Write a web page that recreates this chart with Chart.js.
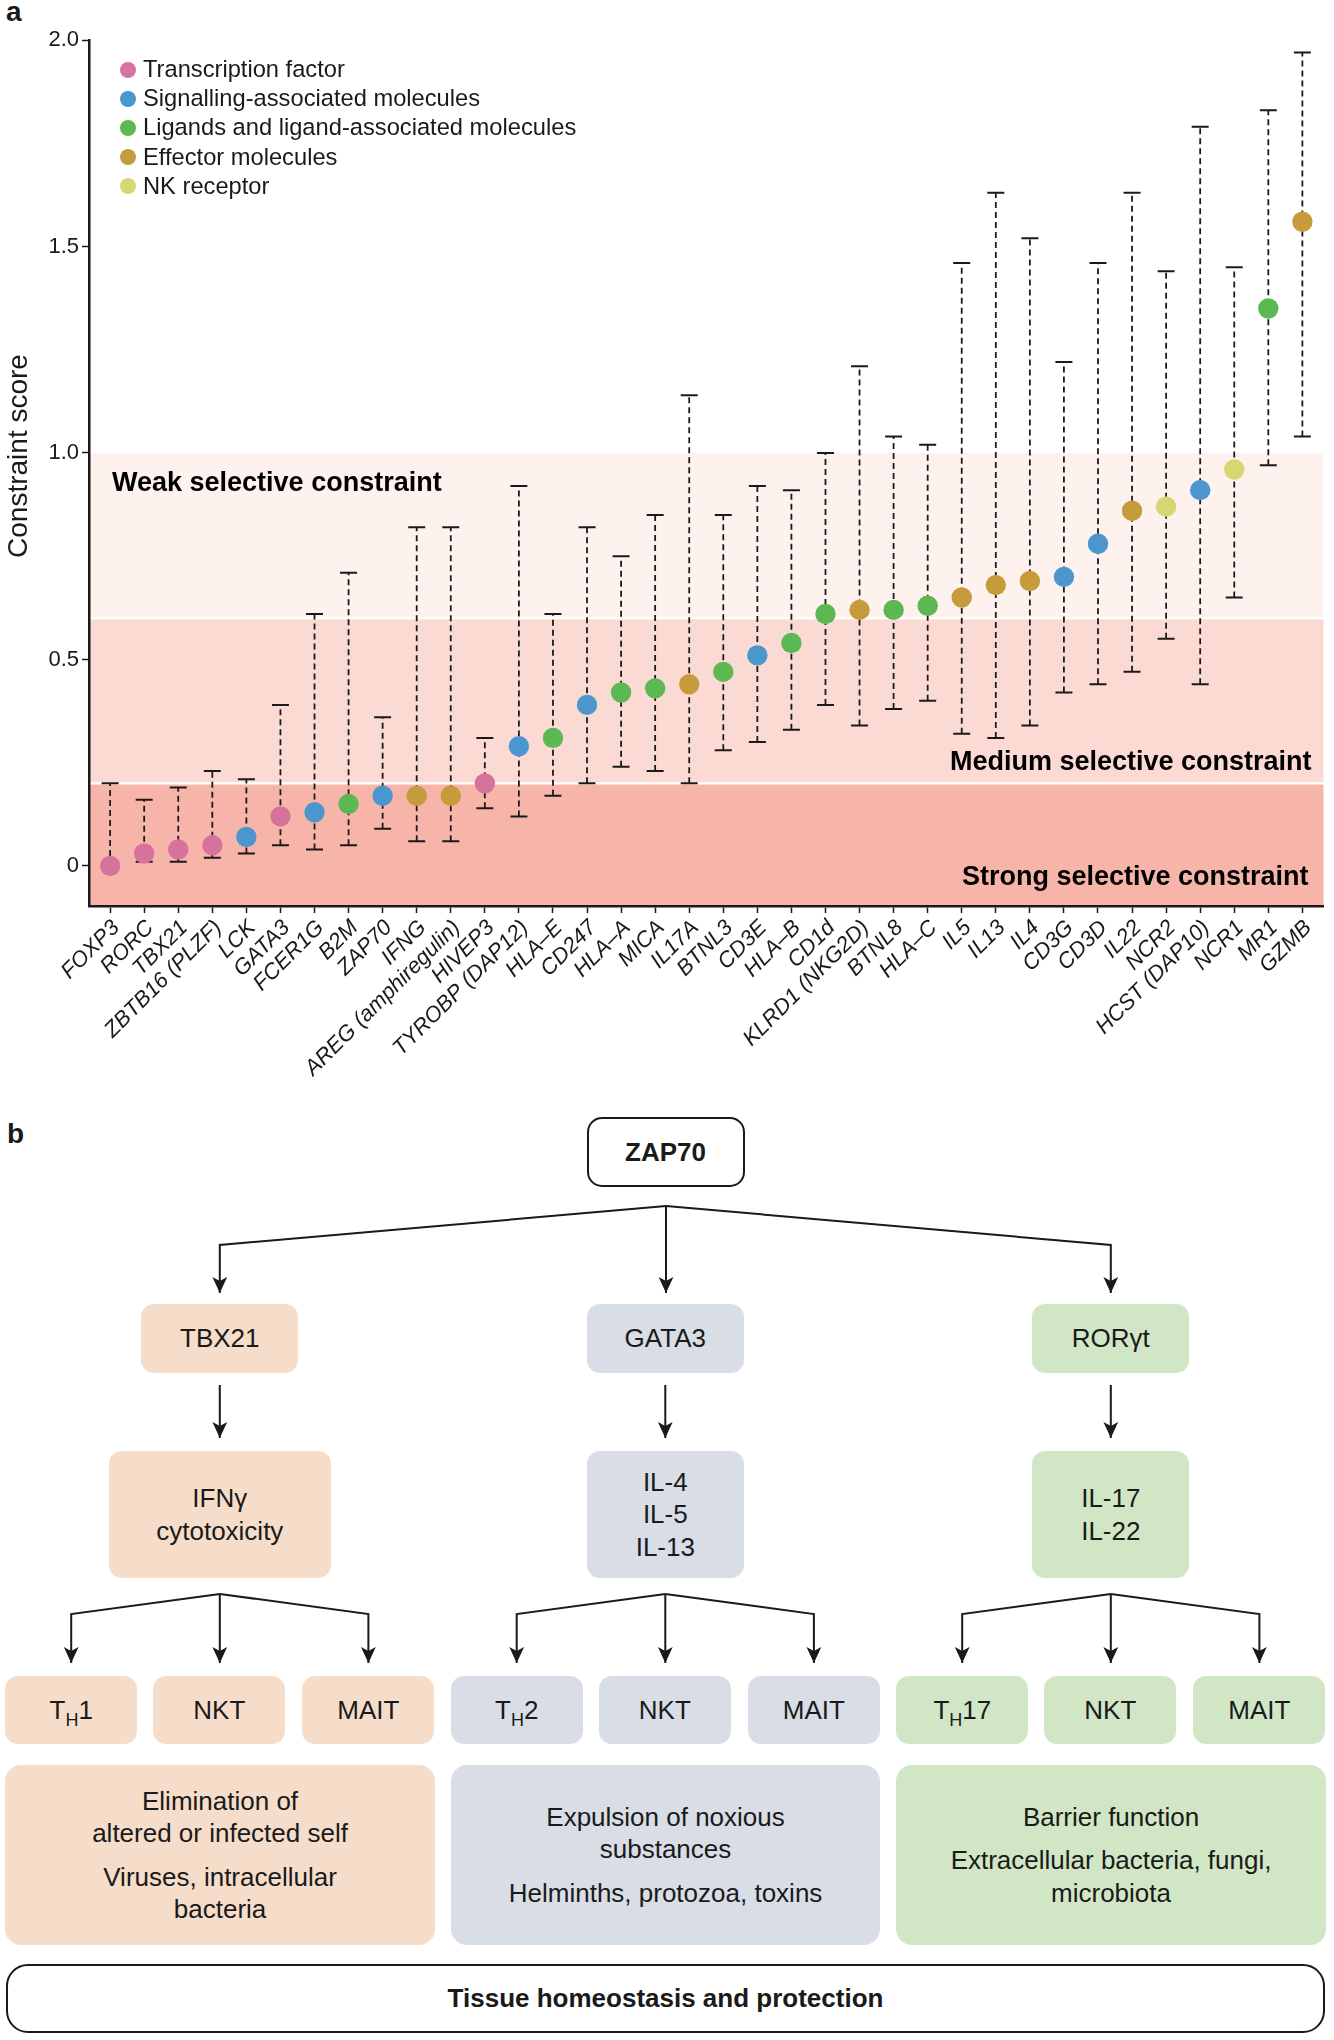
<!DOCTYPE html>
<html>
<head>
<meta charset="utf-8">
<script src="https://cdn.jsdelivr.net/npm/chart.js@4.4.1/dist/chart.umd.min.js"></script>
<style>
  html, body { margin: 0; padding: 0; background: #fff; }
  body { width: 1334px; height: 2040px; position: relative; overflow: hidden;
         font-family: "Liberation Sans", Arial, Helvetica, sans-serif; color: #1a1a1a; }
  .panel { position: absolute; font-weight: bold; font-size: 28px; line-height: 28px; }
  #chart { position: absolute; left: 0; top: 0; }
  #legend { position: absolute; left: 120px; top: 55px; font-size: 23.7px; }
  #legend div { height: 29.2px; display: flex; align-items: center; white-space: nowrap; }
  #legend .dot { width: 16px; height: 16px; border-radius: 50%; margin-right: 7px; flex: none; }
  .box { position: absolute; display: flex; flex-direction: column; align-items: center;
         justify-content: center; text-align: center; font-size: 26px; line-height: 32.5px;
         border-radius: 13px; box-sizing: border-box; }
  .box p { margin: 0; }
  .box p + p { margin-top: 11px; }
  .box sub { font-size: 18px; vertical-align: -7px; line-height: 0; }
  svg { position: absolute; left: 0; top: 0; }
</style>
</head>
<body>
<div class="panel" style="left:6px;top:-2px;">a</div>
<div class="panel" style="left:7px;top:1120px;">b</div>
<canvas id="chart" width="1334" height="1100"></canvas>
<div id="legend"></div>
<div id="diagram"></div>
<svg id="arrows" width="1334" height="2040"></svg>

<script>
// categories along the x axis, left to right
const genes = ['FOXP3', 'RORC', 'TBX21', 'ZBTB16 (PLZF)', 'LCK', 'GATA3', 'FCER1G', 'B2M', 'ZAP70',
    'IFNG', 'AREG (amphiregulin)', 'HIVEP3', 'TYROBP (DAP12)', 'HLA–E', 'CD247', 'HLA–A', 'MICA',
    'IL17A', 'BTNL3', 'CD3E', 'HLA–B', 'CD1d', 'KLRD1 (NKG2D)', 'BTNL8', 'HLA–C', 'IL5', 'IL13',
    'IL4', 'CD3G', 'CD3D', 'IL22', 'NCR2', 'HCST (DAP10)', 'NCR1', 'MR1', 'GZMB'];

const categories = ['Transcription factor', 'Signalling-associated molecules',
    'Ligands and ligand-associated molecules', 'Effector molecules', 'NK receptor'];

// index into categories for each gene
const groupOf = [0, 0, 0, 0, 1, 0, 1, 2, 1, 3, 3, 0, 1, 2, 1, 2, 2, 3, 2, 1, 2, 2, 3, 2, 2, 3, 3,
    3, 1, 1, 3, 4, 1, 4, 2, 3];

const score = [0.00, 0.03, 0.04, 0.05, 0.07, 0.12, 0.13, 0.15, 0.17, 0.17, 0.17, 0.20, 0.29, 0.31,
    0.39, 0.42, 0.43, 0.44, 0.47, 0.51, 0.54, 0.61, 0.62, 0.62, 0.63, 0.65, 0.68, 0.69, 0.70,
    0.78, 0.86, 0.87, 0.91, 0.96, 1.35, 1.56];

const lower = [0.00, 0.01, 0.01, 0.02, 0.03, 0.05, 0.04, 0.05, 0.09, 0.06, 0.06, 0.14, 0.12, 0.17,
    0.20, 0.24, 0.23, 0.20, 0.28, 0.30, 0.33, 0.39, 0.34, 0.38, 0.40, 0.32, 0.31, 0.34, 0.42,
    0.44, 0.47, 0.55, 0.44, 0.65, 0.97, 1.04];

const upper = [0.20, 0.16, 0.19, 0.23, 0.21, 0.39, 0.61, 0.71, 0.36, 0.82, 0.82, 0.31, 0.92, 0.61,
    0.82, 0.75, 0.85, 1.14, 0.85, 0.92, 0.91, 1.00, 1.21, 1.04, 1.02, 1.46, 1.63, 1.52, 1.22,
    1.46, 1.63, 1.44, 1.79, 1.45, 1.83, 1.97];

const yTicks = [0, 0.5, 1.0, 1.5, 2.0];

// selective constraint band limits and names
const bandLimits = [0.2, 0.6, 1.0];
const bandNames = ['Strong selective constraint', 'Medium selective constraint', 'Weak selective constraint'];

const dotColors = ['#D5739D', '#4B96CE', '#5CB852', '#C79A3B', '#D6D770'];
const bandColors = ['#F7B5AA', '#FBDAD3', '#FDF2EE'];
const ink = '#1a1a1a';
const fontFamily = '"Liberation Sans", Arial, Helvetica, sans-serif';

// legend
const legend = document.getElementById('legend');
categories.forEach((name, c) => {
    const row = document.createElement('div');
    row.innerHTML = '<span class="dot" style="background:' + dotColors[c] + '"></span>' + name;
    legend.appendChild(row);
});

// dashed whiskers: lower -> upper, broken by a null point
const whiskerData = [];
genes.forEach((g, i) => {
    whiskerData.push({x: i, y: lower[i]}, {x: i, y: upper[i]}, {x: i, y: null});
});

const dotSets = categories.map((name, c) => ({
    type: 'scatter',
    label: name,
    order: 0,
    data: genes.map((g, i) => ({x: i, y: score[i], c: groupOf[i]})).filter(p => p.c === c),
    backgroundColor: dotColors[c],
    borderWidth: 0,
    pointRadius: 10.2,
    pointHoverRadius: 10.2
}));

const bandPlugin = {
    id: 'bands',
    beforeDraw(chart) {
        const {ctx, chartArea: a, scales: {y}} = chart;
        const y02 = y.getPixelForValue(bandLimits[0]);
        const y06 = y.getPixelForValue(bandLimits[1]);
        const y10 = y.getPixelForValue(bandLimits[2]);
        ctx.save();
        ctx.fillStyle = bandColors[0];
        ctx.fillRect(a.left, y02 + 1.2, a.right - a.left, a.bottom - y02 - 1.2);
        ctx.fillStyle = bandColors[1];
        ctx.fillRect(a.left, y06 + 1.2, a.right - a.left, y02 - y06 - 2.4);
        ctx.fillStyle = bandColors[2];
        ctx.fillRect(a.left, y10, a.right - a.left, y06 - y10 - 1.2);

        ctx.fillStyle = '#000';
        ctx.font = 'bold 27px ' + fontFamily;
        ctx.textBaseline = 'middle';
        ctx.textAlign = 'left';
        ctx.fillText(bandNames[2], a.left + 23, y.getPixelForValue(0.927));
        ctx.textAlign = 'right';
        ctx.fillText(bandNames[1], a.right - 12, y.getPixelForValue(0.251));
        ctx.fillText(bandNames[0], a.right - 15, y.getPixelForValue(-0.027));

        // axis title, placed a little above the panel centre as in the original
        ctx.fillStyle = ink;
        ctx.font = '28px ' + fontFamily;
        ctx.textAlign = 'center';
        ctx.translate(19, 456);
        ctx.rotate(-Math.PI / 2);
        ctx.fillText('Constraint score', 0, 0);
        ctx.restore();
    }
};

new Chart(document.getElementById('chart'), {
    data: {
        datasets: [
            ...dotSets,
            {
                type: 'line',
                label: 'range',
                order: 1,
                data: whiskerData,
                spanGaps: false,
                borderColor: ink,
                borderWidth: 1.8,
                borderDash: [6, 4],
                fill: false,
                pointStyle: 'line',
                pointRadius: 8.5,
                pointHoverRadius: 8.5,
                pointBorderWidth: 2,
                pointBorderColor: ink,
                pointBackgroundColor: ink
            }
        ]
    },
    options: {
        responsive: false,
        animation: false,
        events: [],
        layout: {padding: {top: 40, right: 5, left: 0, bottom: 0}},
        plugins: {legend: {display: false}, tooltip: {enabled: false}},
        scales: {
            x: {
                type: 'linear',
                min: -0.62,
                max: 35.62,
                afterBuildTicks: s => { s.ticks = genes.map((g, i) => ({value: i})); },
                afterFit: s => { s.height = 194; s.paddingLeft = 0; s.paddingRight = 0; },
                grid: {drawOnChartArea: false, tickLength: 7, tickWidth: 1.5, tickColor: ink},
                border: {display: true, color: ink, width: 2.5},
                ticks: {
                    autoSkip: false, minRotation: 45, maxRotation: 45, padding: 2, labelOffset: 6,
                    color: ink, font: {family: fontFamily, size: 22, style: 'italic'},
                    callback: v => genes[v]
                }
            },
            y: {
                min: -0.097,
                max: 2.0,
                afterBuildTicks: s => { s.ticks = yTicks.map(v => ({value: v})); },
                afterFit: s => { s.width = 89; },
                grid: {drawOnChartArea: false, tickLength: 7, tickWidth: 1.5, tickColor: ink},
                border: {display: true, color: ink, width: 2.5},
                ticks: {
                    padding: 3, color: ink,
                    font: {family: fontFamily, size: 22},
                    callback: v => v === 0 ? '0' : v.toFixed(1)
                }
            }
        }
    },
    plugins: [bandPlugin]
});

// panel b: flow diagram
const peach = '#F6DDCA', grey = '#D9DDE6', green = '#D0E6C4';
const groupLeft = [0, 445.5, 891];
const groupFill = [peach, grey, green];
const tfNames = ['TBX21', 'GATA3', 'RORγt'];
const cytokines = [['IFNγ', 'cytotoxicity'], ['IL-4', 'IL-5', 'IL-13'], ['IL-17', 'IL-22']];
const cellTypes = [['T<sub>H</sub>1', 'NKT', 'MAIT'], ['T<sub>H</sub>2', 'NKT', 'MAIT'], ['T<sub>H</sub>17', 'NKT', 'MAIT']];
const functions = [
    ['Elimination of<br>altered or infected self', 'Viruses, intracellular<br>bacteria'],
    ['Expulsion of noxious<br>substances', 'Helminths, protozoa, toxins'],
    ['Barrier function', 'Extracellular bacteria, fungi,<br>microbiota']
];

const diagram = document.getElementById('diagram');
function addBox(left, top, w, h, style, html) {
    const d = document.createElement('div');
    d.className = 'box';
    d.style.cssText = 'left:' + left + 'px;top:' + top + 'px;width:' + w + 'px;height:' + h + 'px;' + style;
    d.innerHTML = html;
    diagram.appendChild(d);
}

addBox(586.5, 1117, 158, 70, 'border:2px solid #1a1a1a;border-radius:15px;font-weight:bold;', '<span>ZAP70</span>');

const centers = [];
groupFill.forEach((fill, g) => {
    const cx = 219.8 + groupLeft[g];
    centers.push(cx);
    addBox(cx - 78.5, 1304, 157, 69, 'background:' + fill + ';', '<span>' + tfNames[g] + '</span>');
    const w2 = g === 0 ? 222 : 157;
    addBox(cx - w2 / 2, 1451, w2, 127, 'background:' + fill + ';', '<span>' + cytokines[g].join('<br>') + '</span>');
    [5.3, 153.3, 302.3].forEach((x, k) => {
        addBox(groupLeft[g] + x, 1676, 132, 68, 'background:' + fill + ';', '<span>' + cellTypes[g][k] + '</span>');
    });
    addBox(groupLeft[g] + 5.3, 1765, 429.5, 180, 'background:' + fill + ';border-radius:16px;',
        functions[g].map(t => '<p>' + t + '</p>').join(''));
});

addBox(6, 1964, 1319, 69, 'border:2px solid #1a1a1a;border-radius:22px;font-weight:bold;',
    '<span>Tissue homeostasis and protection</span>');

// arrows
const svg = document.getElementById('arrows');
let paths = '<defs><marker id="ah" viewBox="0 0 16 16" refX="16" refY="8" markerWidth="16" markerHeight="16" ' +
    'orient="auto" markerUnits="userSpaceOnUse"><path d="M0,0.6 L16,8 L0,15.4 L4,8 Z" fill="#1a1a1a"/></marker></defs>';
function arrow(pts) {
    paths += '<polyline points="' + pts + '" fill="none" stroke="#1a1a1a" stroke-width="2" ' +
        'stroke-linejoin="miter" marker-end="url(#ah)"/>';
}
const top0 = [666, 1206];
centers.forEach(cx => {
    if (Math.abs(cx - top0[0]) < 5) arrow(top0.join(',') + ' ' + top0[0] + ',1293');
    else arrow(top0.join(',') + ' ' + cx + ',1245 ' + cx + ',1293');
    arrow(cx + ',1385 ' + cx + ',1438');
    arrow(cx + ',1594 ' + (cx - 148.6) + ',1614 ' + (cx - 148.6) + ',1663');
    arrow(cx + ',1594 ' + cx + ',1663');
    arrow(cx + ',1594 ' + (cx + 148.6) + ',1614 ' + (cx + 148.6) + ',1663');
});
svg.innerHTML = paths;
</script>
</body>
</html>
